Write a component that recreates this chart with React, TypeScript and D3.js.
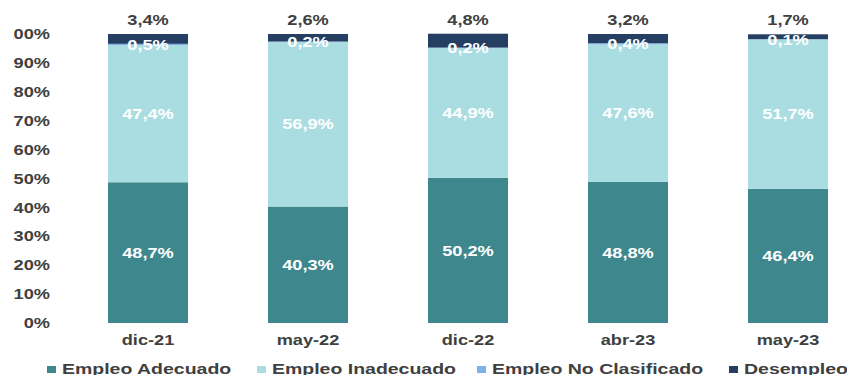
import React from "react";
import * as d3 from "d3";

const categories = ["dic-21", "may-22", "dic-22", "abr-23", "may-23"];
const adecuado = [48.7, 40.3, 50.2, 48.8, 46.4];
const inadecuado = [47.4, 56.9, 44.9, 47.6, 51.7];
const noClasificado = [0.5, 0.2, 0.2, 0.4, 0.1];
const desempleo = [3.4, 2.6, 4.8, 3.2, 1.7];
const yTicks = [0, 10, 20, 30, 40, 50, 60, 70, 80, 90, 100];
const seriesNames = ["Empleo Adecuado", "Empleo Inadecuado", "Empleo No Clasificado", "Desempleo"];
const seriesColors = ["#3e878c", "#aadde2", "#7eb1ea", "#253f62"];

const W = 847;
const H = 375;
const FONT = "Arial, 'Liberation Sans', sans-serif";
const SX = 1.3;

const fmt = (v: number) => v.toFixed(1).replace(".", ",") + "%";

export default function App() {
  const x = d3.scaleBand<string>().domain(categories).range([68, 868]).paddingInner(0.5).paddingOuter(0.25);
  const y = d3.scaleLinear().domain([0, 100]).range([323, 34]);
  const rows = categories.map((c, i) => ({
    cat: c,
    a: adecuado[i],
    b: inadecuado[i],
    n: noClasificado[i],
    d: desempleo[i],
  }));
  const stack = d3.stack<any>().keys(["a", "b", "n", "d"])(rows);

  const T = (props: any) => {
    const { x: tx, y: ty, children, ...rest } = props;
    return (
      <text
        transform={`translate(${tx},${ty}) scale(${SX},1)`}
        fontFamily={FONT}
        fontWeight="bold"
        dominantBaseline="central"
        {...rest}
      >
        {children}
      </text>
    );
  };

  const legendX = [47, 257, 477, 729];

  return (
    <svg width={W} height={H} style={{ position: "absolute", left: 0, top: 0 }}>
      <defs>
        <clipPath id="yclip">
          <rect x={13} y={0} width={60} height={H} />
        </clipPath>
      </defs>
      <g clipPath="url(#yclip)">
        {yTicks.map((t) => (
          <T key={t} x={50} y={y(t)} textAnchor="end" fontSize={14} fill="#404040">
            {t + "%"}
          </T>
        ))}
      </g>
      {stack.map((layer, si) => (
        <g key={si}>
          {layer.map((d: any, i: number) => (
            <rect
              key={i}
              x={x(categories[i])}
              width={x.bandwidth()}
              y={y(d[1])}
              height={y(d[0]) - y(d[1])}
              fill={seriesColors[si]}
            />
          ))}
        </g>
      ))}
      {stack.slice(0, 3).map((layer, si) => (
        <g key={"l" + si}>
          {layer.map((d: any, i: number) => (
            <T
              key={i}
              x={(x(categories[i]) as number) + x.bandwidth() / 2}
              y={y((d[0] + d[1]) / 2)}
              textAnchor="middle"
              fontSize={14}
              fill="#ffffff"
            >
              {fmt(d[1] - d[0])}
            </T>
          ))}
        </g>
      ))}
      {stack[3].map((d: any, i: number) => (
        <T
          key={"t" + i}
          x={(x(categories[i]) as number) + x.bandwidth() / 2}
          y={y(d[1]) - 14}
          textAnchor="middle"
          fontSize={14}
          fill="#404040"
        >
          {fmt(d[1] - d[0])}
        </T>
      ))}
      {categories.map((c) => (
        <T key={c} x={(x(c) as number) + x.bandwidth() / 2} y={340} textAnchor="middle" fontSize={14} fill="#404040">
          {c}
        </T>
      ))}
      {seriesNames.map((s, i) => (
        <g key={s}>
          <rect x={legendX[i]} y={366} width={9} height={7} fill={seriesColors[i]} />
          <T x={legendX[i] + 15} y={369} textAnchor="start" fontSize={15} fill="#404040">
            {s}
          </T>
        </g>
      ))}
    </svg>
  );
}
